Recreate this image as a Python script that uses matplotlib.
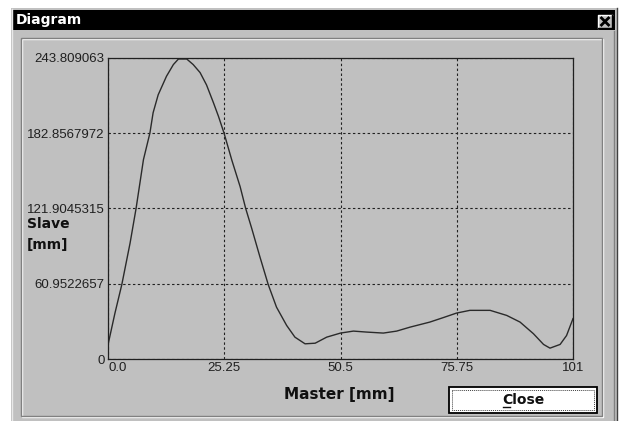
import matplotlib
matplotlib.use("Agg")
import matplotlib.pyplot as plt
from matplotlib.patches import Rectangle

# Curve (Master vs Slave, both in mm)
master = [0, 1.5, 3.0, 4.8, 6.1, 7.7, 9.1, 9.8, 10.9, 12.7, 14.2, 15.3, 17.1,
          18.5, 20.0, 21.4, 22.9, 24.0, 25.2, 26.9, 28.7, 29.9, 31.2, 33.0,
          34.8, 36.6, 38.8, 40.6, 42.8, 45.0, 47.5, 50.5, 53.3, 56.2, 59.8,
          62.7, 65.6, 69.9, 72.8, 75.7, 78.6, 83.0, 86.6, 89.5, 92.4, 94.6,
          96.0, 98.2, 99.6, 101]
slave = [11.5, 37, 60.3, 94, 122, 161.5, 183, 199.5, 214, 229, 238.5, 243, 243,
         238.5, 232, 222, 207.6, 196.5, 183, 161, 139.6, 122, 106, 82.7,
         60.3, 42, 27.2, 17.7, 12.3, 12.8, 17.7, 21, 22.6, 21.8, 21,
         22.6, 25.8, 29.9, 33.5, 37.2, 39.4, 39.4, 35.3, 29.9, 20.5, 11.8,
         8.8, 11.8, 19, 32.7]

x_ticks = [0, 25.25, 50.5, 75.75, 101]
x_labels = ["0.0", "25.25", "50.5", "75.75", "101"]
y_ticks = [0, 60.9522657, 121.9045315, 182.8567972, 243.809063]
y_labels = ["0", "60.9522657", "121.9045315", "182.8567972", "243.809063"]

W, H = 622, 421
GRAY = "#c0c0c0"
DARK = "#808080"

fig = plt.figure(figsize=(W / 100, H / 100), dpi=100, facecolor="white")

# background layer in pixel coordinates for the dialog chrome
bg = fig.add_axes([0, 0, 1, 1])
bg.set_xlim(0, W)
bg.set_ylim(H, 0)
bg.axis("off")


def rect(x0, y0, x1, y1, **kw):
    bg.add_patch(Rectangle((x0, y0), x1 - x0, y1 - y0, **kw))


# window
rect(11, 8, 617, H + 2, facecolor=GRAY, edgecolor="none")
bg.plot([12, 12], [9, H], color="#e8e8e8", lw=1)
bg.plot([614, 614], [31, H], color=DARK, lw=1)
bg.plot([617, 617], [8, H], color="#404040", lw=1)

# title bar
rect(13, 10, 615, 30, facecolor="black", edgecolor="none")
bg.text(16, 20, "Diagram", color="white", fontsize=10, fontweight="bold",
        family="DejaVu Sans", va="center", ha="left")
rect(598, 15, 612, 28, facecolor=GRAY, edgecolor="none")
bg.plot([598, 598, 612], [28, 15, 15], color="white", lw=1)
bg.plot([598, 612, 612], [28, 28, 15], color="black", lw=1)
bg.plot([601.5, 608.5], [18, 25], color="black", lw=2)
bg.plot([601.5, 608.5], [25, 18], color="black", lw=2)

# group box (etched)
rect(22, 39, 603, 417, facecolor="none", edgecolor="white", lw=1)
rect(21, 38, 602, 416, facecolor="none", edgecolor=DARK, lw=1)

# axis titles
bg.text(27, 228, "Slave", fontsize=10, fontweight="bold", family="DejaVu Sans",
        va="baseline", ha="left", color="#101010")
bg.text(27, 249, "[mm]", fontsize=10, fontweight="bold", family="DejaVu Sans",
        va="baseline", ha="left", color="#101010")
bg.text(339, 394, "Master [mm]", fontsize=11, fontweight="bold", family="DejaVu Sans",
        va="center", ha="center", color="#101010")

# Close button
rect(449, 387, 597, 413, facecolor="white", edgecolor="black", lw=1.3)
rect(452, 390, 594, 410, facecolor="none", edgecolor="#404040", lw=0.7, ls=(0, (1, 1)))
bg.text(523, 400, "Close", fontsize=10, fontweight="bold", family="DejaVu Sans",
        va="center", ha="center", color="#101010")
bg.plot([503, 510], [407, 407], color="#101010", lw=1)

# plot area
ax = fig.add_axes([108 / W, 1 - 359 / H, 465 / W, 301 / H])
ax.set_facecolor(GRAY)
ax.plot(master, slave, color="#2a2a2a", lw=1.0)
ax.set_xlim(0, 101)
ax.set_ylim(0, 243.809063)
ax.set_xticks(x_ticks)
ax.set_xticklabels(x_labels)
ax.set_yticks(y_ticks)
ax.set_yticklabels(y_labels)
ax.tick_params(length=0, labelsize=9.5, colors="#202020", pad=2.5)
for lbl in ax.get_xticklabels() + ax.get_yticklabels():
    lbl.set_family("Liberation Sans")
ax.get_xticklabels()[0].set_ha("left")
ax.grid(True, color="#202020", lw=0.8, ls=(0, (2.2, 2.2)))
for s in ax.spines.values():
    s.set_color("#202020")
    s.set_linewidth(0.9)

fig.savefig("out.png", dpi=100, facecolor="white")
